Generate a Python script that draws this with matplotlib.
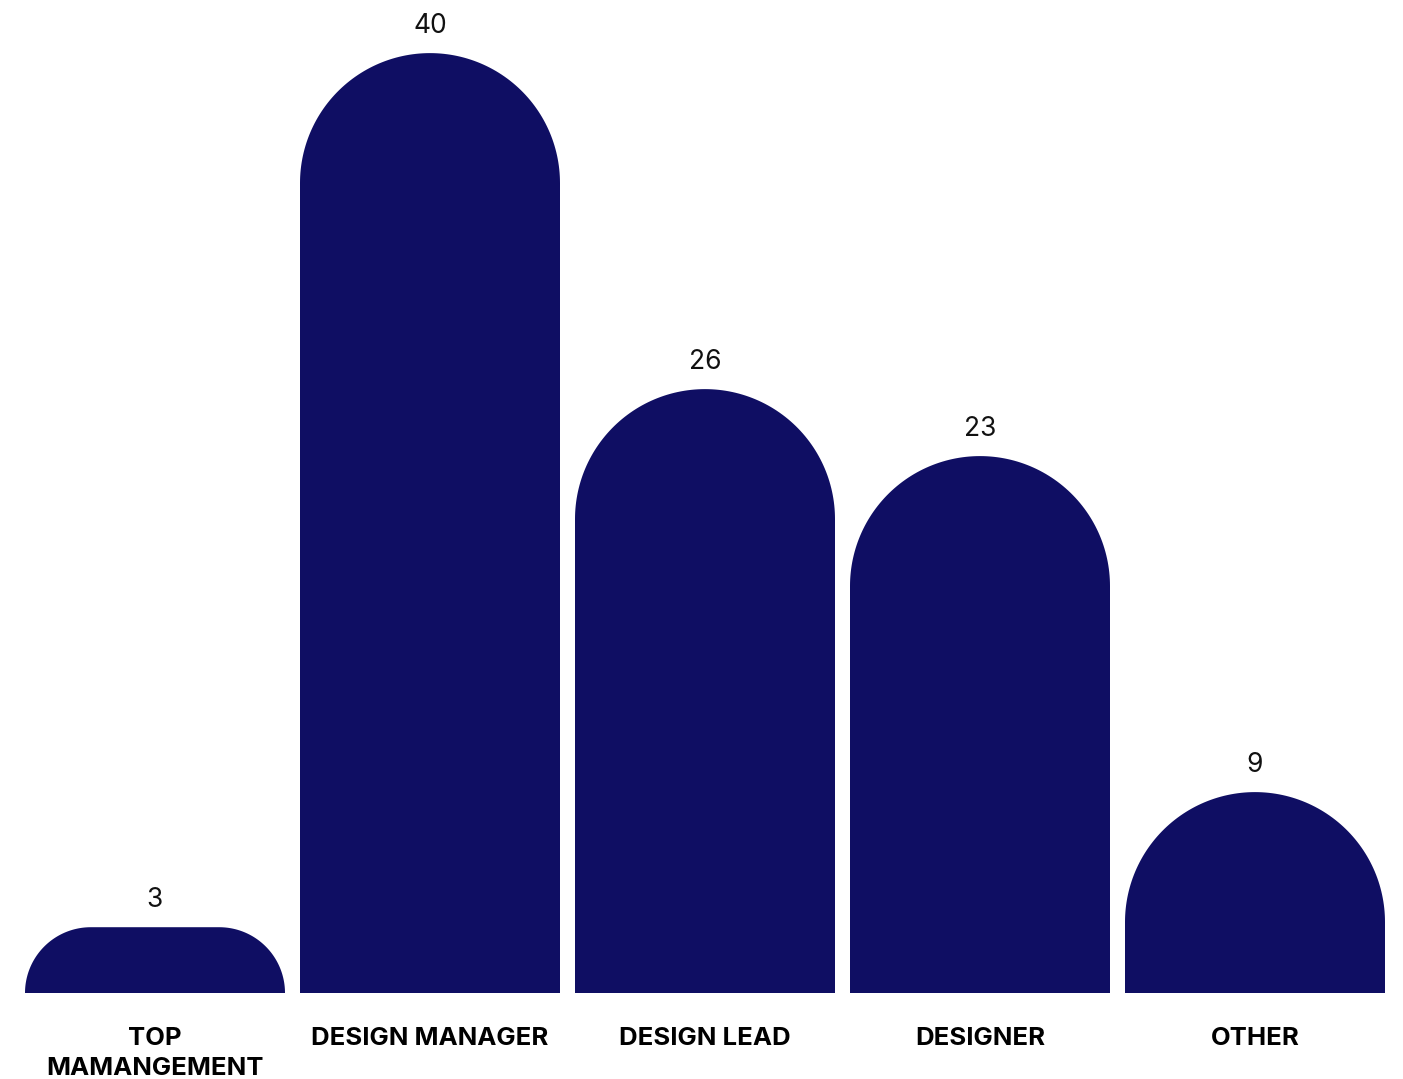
import numpy as np
import matplotlib.pyplot as plt
from matplotlib.patches import Polygon

categories = ["TOP\nMAMANGEMENT", "DESIGN MANAGER", "DESIGN LEAD", "DESIGNER", "OTHER"]
shares = [2.8, 40.0, 25.7, 22.85, 8.55]   # bar heights
value_labels = ["3", "40", "26", "23", "9"]

bar_color = "#0f0e63"
W, H = 1403, 1079
fig = plt.figure(figsize=(W / 100, H / 100), dpi=100)

# axes placed in pixels: bar centres 275 px apart, baseline at 993 px from top
x0_px, x1_px = 17.5, 1392.5
base_px = 993
ymax = 42.26
ax = fig.add_axes([x0_px / W, (H - base_px) / H, (x1_px - x0_px) / W, base_px / H])
ax.set_xlim(-0.5, 4.5)
ax.set_ylim(0, ymax)
ax.axis("off")

px_x = (x1_px - x0_px) / 5.0   # pixels per x unit
px_y = base_px / ymax          # pixels per y unit
width = 260 / px_x

for i, (v, lab) in enumerate(zip(shares, value_labels)):
    half = width / 2
    h_px = v * px_y
    r_px = min(half * px_x, h_px)
    rx = r_px / px_x
    ry = r_px / px_y
    left, right = i - half, i + half
    t = np.linspace(0, np.pi / 2, 60)
    rc = np.column_stack([right - rx + rx * np.cos(t), v - ry + ry * np.sin(t)])
    lc = np.column_stack([left + rx - rx * np.cos(t[::-1]), v - ry + ry * np.sin(t[::-1])])
    pts = np.vstack([[right, 0], rc, lc, [left, 0]])
    ax.add_patch(Polygon(pts, closed=True, facecolor=bar_color, edgecolor="none"))
    ax.annotate(lab, (i, v), xytext=(0, 19.8), textcoords="offset points",
                ha="center", va="center", fontsize=19, family="Inter",
                color="#111111", annotation_clip=False)

for i, c in enumerate(categories):
    fig.text((x0_px + (i + 0.5) * px_x) / W, 1 - 1027 / H, c, ha="center", va="top",
             fontsize=18.5, fontweight="bold", family="Inter", color="#000000",
             linespacing=1.4)

fig.savefig("out.png", dpi=100, facecolor="white")
